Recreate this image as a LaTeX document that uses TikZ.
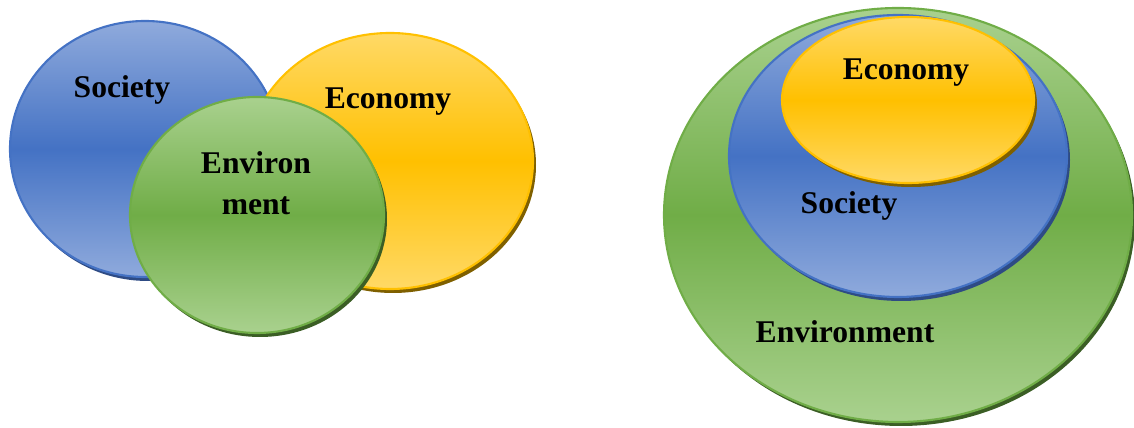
\documentclass[tikz,border=0pt]{standalone}
\usepackage{fontspec}
\setmainfont{Liberation Serif}
\definecolor{bluelight}{HTML}{8FAADC}
\definecolor{bluemid}{HTML}{4472C4}
\definecolor{blueshadow}{HTML}{2E4B84}
\definecolor{yellowlight}{HTML}{FFD966}
\definecolor{yellowmid}{HTML}{FFC000}
\definecolor{yellowshadow}{HTML}{7F6000}
\definecolor{greenlight}{HTML}{A9D18E}
\definecolor{greenmid}{HTML}{70AD47}
\definecolor{greenshadow}{HTML}{3B5E25}
\tikzset{
    blueblob/.style = {top color=bluelight, bottom color=bluelight, middle color=bluemid, draw=bluemid, line width=1.2pt},
    yellowblob/.style = {top color=yellowlight, bottom color=yellowlight, middle color=yellowmid, draw=yellowmid, line width=1.2pt},
    greenblob/.style = {top color=greenlight, bottom color=greenlight, middle color=greenmid, draw=greenmid, line width=1.2pt},
    lbl/.style = {font=\fontsize{18}{23}\selectfont\bfseries, align=center, inner sep=0pt}
}
\begin{document}
\begin{tikzpicture}[x=0.02cm, y=0.02cm]
        \useasboundingbox (0, 0) rectangle (1134, 428);
        % left: three overlapping circles
        \fill [blueshadow] (148, 275) ellipse [x radius=135, y radius=128];
        \path [blueblob] (145, 279) ellipse [x radius=135, y radius=128];
        \fill [yellowshadow] (393, 263) ellipse [x radius=143, y radius=128];
        \path [yellowblob] (390, 267) ellipse [x radius=143, y radius=128];
        \fill [greenshadow] (260, 209) ellipse [x radius=127, y radius=118];
        \path [greenblob] (257, 213) ellipse [x radius=127, y radius=118];
        \node [lbl] (soc1) at (122, 338) {Society};
        \node [lbl] (eco1) at (388, 326) {Economy};
        \node [lbl] (env1) at (256, 245) {Environ\\ment};
        % right: nested circles
        \fill [greenshadow] (901, 209) ellipse [x radius=234, y radius=207];
        \path [greenblob] (898, 213) ellipse [x radius=234, y radius=207];
        \fill [blueshadow] (901, 268) ellipse [x radius=169, y radius=141];
        \path [blueblob] (898, 272) ellipse [x radius=169, y radius=141];
        \fill [yellowshadow] (911, 324) ellipse [x radius=126, y radius=83];
        \path [yellowblob] (908, 328) ellipse [x radius=126, y radius=83];
        \node [lbl] (eco2) at (906, 355) {Economy};
        \node [lbl] (soc2) at (849, 222) {Society};
        \node [lbl] (env2) at (845, 96) {Environment};
    \end{tikzpicture}
\end{document}
